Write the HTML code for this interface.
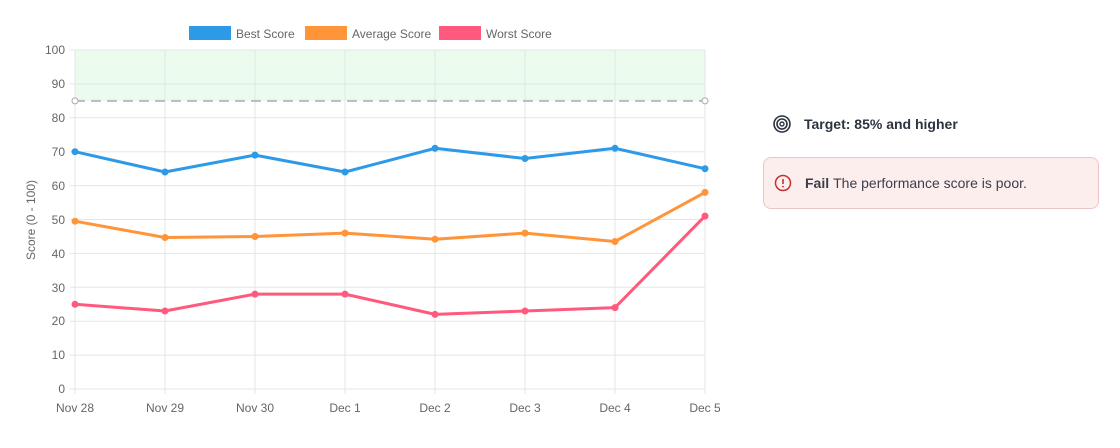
<!DOCTYPE html>
<html><head><style>
body{margin:0;width:1120px;height:448px;background:#fff;font-family:"Liberation Sans",Arial,sans-serif;position:relative;overflow:hidden}
.t{font-size:12px;fill:#666;font-family:"Liberation Sans",Arial,sans-serif}
.target{position:absolute;left:772px;top:114px;font-size:14px;font-weight:bold;color:#2d3340;display:flex;align-items:center}
.fail{position:absolute;left:763px;top:157px;width:336px;height:52px;box-sizing:border-box;background:#fdeeee;border:1px solid #f0c4c4;border-radius:8px;font-size:14px;color:#3a3f4a;display:flex;align-items:center;padding-left:10px}
</style></head><body>
<svg width="720" height="448" style="position:absolute;left:0;top:0">
<rect x="75" y="50" width="630" height="50.85" fill="#ebfbee"/>
<g stroke="#e5e5e5" stroke-width="1">
<line x1="70" x2="705" y1="50" y2="50"/><line x1="70" x2="705" y1="83.9" y2="83.9"/>
<line x1="70" x2="705" y1="117.8" y2="117.8"/><line x1="70" x2="705" y1="151.7" y2="151.7"/>
<line x1="70" x2="705" y1="185.6" y2="185.6"/><line x1="70" x2="705" y1="219.5" y2="219.5"/>
<line x1="70" x2="705" y1="253.4" y2="253.4"/><line x1="70" x2="705" y1="287.3" y2="287.3"/>
<line x1="70" x2="705" y1="321.2" y2="321.2"/><line x1="70" x2="705" y1="355.1" y2="355.1"/>
<line x1="70" x2="705" y1="389" y2="389"/>
<line x1="75" x2="75" y1="50" y2="394"/><line x1="165" x2="165" y1="50" y2="394"/>
<line x1="255" x2="255" y1="50" y2="394"/><line x1="345" x2="345" y1="50" y2="394"/>
<line x1="435" x2="435" y1="50" y2="394"/><line x1="525" x2="525" y1="50" y2="394"/>
<line x1="615" x2="615" y1="50" y2="394"/><line x1="705" x2="705" y1="50" y2="394"/>
</g>
<line x1="75" x2="705" y1="100.85" y2="100.85" stroke="#bbb" stroke-width="2" stroke-dasharray="10,6"/>
<circle cx="75" cy="100.85" r="3" fill="#fff" stroke="#aaa"/><circle cx="705" cy="100.85" r="3" fill="#fff" stroke="#aaa"/>
<g class="t" text-anchor="end">
<text x="65" y="54">100</text><text x="65" y="88">90</text><text x="65" y="122">80</text><text x="65" y="156">70</text>
<text x="65" y="190">60</text><text x="65" y="224">50</text><text x="65" y="258">40</text><text x="65" y="292">30</text>
<text x="65" y="325">20</text><text x="65" y="359">10</text><text x="65" y="393">0</text>
</g>
<g class="t" text-anchor="middle">
<text x="75" y="412">Nov 28</text><text x="165" y="412">Nov 29</text><text x="255" y="412">Nov 30</text><text x="345" y="412">Dec 1</text>
<text x="435" y="412">Dec 2</text><text x="525" y="412">Dec 3</text><text x="615" y="412">Dec 4</text><text x="705" y="412">Dec 5</text>
</g>
<text class="t" transform="translate(35,220) rotate(-90)" text-anchor="middle">Score  (0 - 100)</text>
<rect x="189" y="26" width="42" height="14" fill="#2d9ae8"/><text class="t" x="236" y="38">Best Score</text>
<rect x="305" y="26" width="42" height="14" fill="#ff9438"/><text class="t" x="352" y="38">Average Score</text>
<rect x="439" y="26" width="42" height="14" fill="#ff5a7d"/><text class="t" x="486" y="38">Worst Score</text>
<g fill="none" stroke-width="3" stroke-linejoin="round">
<polyline stroke="#2d9ae8" points="75,151.7 165,172 255,155.1 345,172 435,148.3 525,158.5 615,148.3 705,168.7"/>
<polyline stroke="#ff9438" points="75,221.2 165,237.5 255,236.5 345,233.1 435,239.2 525,233.1 615,241.5 705,192.4"/>
<polyline stroke="#ff5a7d" points="75,304.3 165,311 255,294.1 345,294.1 435,314.4 525,311 615,307.6 705,216.1"/>
</g>
<g fill="#2d9ae8"><circle cx="75" cy="151.7" r="3.5"/><circle cx="165" cy="172" r="3.5"/><circle cx="255" cy="155.1" r="3.5"/><circle cx="345" cy="172" r="3.5"/><circle cx="435" cy="148.3" r="3.5"/><circle cx="525" cy="158.5" r="3.5"/><circle cx="615" cy="148.3" r="3.5"/><circle cx="705" cy="168.7" r="3.5"/></g>
<g fill="#ff9438"><circle cx="75" cy="221.2" r="3.5"/><circle cx="165" cy="237.5" r="3.5"/><circle cx="255" cy="236.5" r="3.5"/><circle cx="345" cy="233.1" r="3.5"/><circle cx="435" cy="239.2" r="3.5"/><circle cx="525" cy="233.1" r="3.5"/><circle cx="615" cy="241.5" r="3.5"/><circle cx="705" cy="192.4" r="3.5"/></g>
<g fill="#ff5a7d"><circle cx="75" cy="304.3" r="3.5"/><circle cx="165" cy="311" r="3.5"/><circle cx="255" cy="294.1" r="3.5"/><circle cx="345" cy="294.1" r="3.5"/><circle cx="435" cy="314.4" r="3.5"/><circle cx="525" cy="311" r="3.5"/><circle cx="615" cy="307.6" r="3.5"/><circle cx="705" cy="216.1" r="3.5"/></g>
</svg>
<div class="target"><svg width="20" height="20" style="margin-right:12px"><circle cx="10" cy="10" r="8" fill="none" stroke="#2d3340" stroke-width="1.6"/><circle cx="10" cy="10" r="5" fill="none" stroke="#2d3340" stroke-width="1.6"/><circle cx="10" cy="10" r="2" fill="none" stroke="#2d3340" stroke-width="1.4"/></svg>Target: 85% and higher</div>
<div class="fail"><svg width="18" height="18" style="margin-right:13px"><circle cx="9" cy="9" r="7.5" fill="none" stroke="#c53030" stroke-width="1.5"/><line x1="9" y1="5" x2="9" y2="10" stroke="#c53030" stroke-width="1.6"/><circle cx="9" cy="12.6" r="0.9" fill="#c53030"/></svg><b style="margin-right:4px">Fail</b> The performance score is poor.</div>
</body></html>
